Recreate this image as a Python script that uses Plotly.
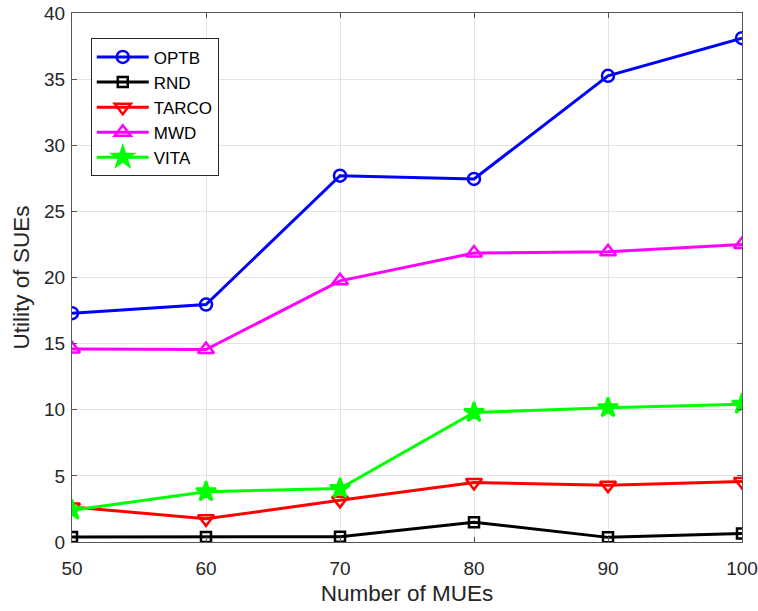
import plotly.graph_objects as go

x_mues = [50, 60, 70, 80, 90, 100]
optb = [17.3, 17.95, 27.7, 27.45, 35.25, 38.1]
rnd = [0.38, 0.38, 0.4, 1.5, 0.35, 0.65]
tarco = [2.65, 1.75, 3.15, 4.5, 4.3, 4.58]
mwd = [14.6, 14.55, 19.75, 21.85, 21.95, 22.5]
vita = [2.4, 3.8, 4.05, 9.8, 10.15, 10.42]

series = [
    ("OPTB", optb, "#0000ff", "circle-open", 12),
    ("RND", rnd, "#000000", "square-open", 10),
    ("TARCO", tarco, "#ff0000", "triangle-down-open", 14),
    ("MWD", mwd, "#ff00ff", "triangle-up-open", 14),
    ("VITA", vita, "#00ff00", "star", 15),
]

fig = go.Figure()
for name, vals, color, sym, size in series:
    fig.add_trace(go.Scatter(
        x=x_mues, y=vals, name=name, mode="lines+markers",
        line=dict(color=color, width=3),
        marker=dict(symbol=sym, size=size, color=color,
                    line=dict(color=color, width=2.5)),
    ))

axis_common = dict(
    showline=True, linecolor="#555555", linewidth=1, mirror="ticks",
    ticks="inside", ticklen=5, tickcolor="#555555",
    showgrid=True, gridcolor="#e3e3e3", gridwidth=1, zeroline=False,
    automargin=False,
    tickfont=dict(family="Liberation Sans, Arial, sans-serif", size=19, color="#262626"),
)

fig.update_layout(
    width=758, height=611,
    margin=dict(l=72, r=16, t=13, b=69),
    paper_bgcolor="white", plot_bgcolor="white",
    font=dict(family="Liberation Sans, Arial, sans-serif", color="#262626"),
    xaxis=dict(range=[50, 100], tickvals=[50, 60, 70, 80, 90, 100],
               ticklabelstandoff=9,
               title=dict(text="Number of MUEs", font=dict(size=22.5), standoff=7),
               **axis_common),
    yaxis=dict(range=[0, 40], tickvals=list(range(0, 41, 5)),
               ticklabelstandoff=2,
               title=dict(text="Utility of SUEs", font=dict(size=22.5), standoff=8),
               **axis_common),
    legend=dict(x=0.028, y=0.952, xanchor="left", yanchor="top",
                bgcolor="white", bordercolor="#262626", borderwidth=1,
                font=dict(size=17, color="#000000"),
                tracegroupgap=0, itemwidth=52),
    showlegend=True,
)

fig.write_html("out.html")
